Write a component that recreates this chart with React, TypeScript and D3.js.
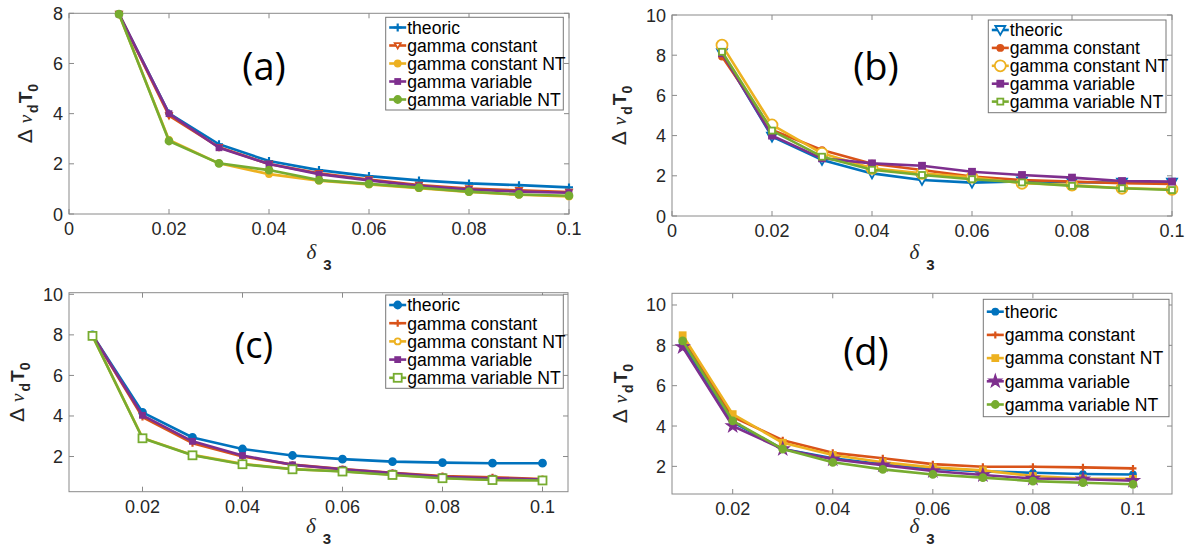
import React from 'react';
import * as d3 from 'd3';

// ---------------- DATA ----------------
const deltaValues = [0.01, 0.02, 0.03, 0.04, 0.05, 0.06, 0.07, 0.08, 0.09, 0.1];
const seriesNames = ['theoric', 'gamma constant', 'gamma constant NT', 'gamma variable', 'gamma variable NT'];
const panelTags = ['(a)', '(b)', '(c)', '(d)'];

const xTicksFromZero = [0, 0.02, 0.04, 0.06, 0.08, 0.1];
const xTicksNoZero = [0.02, 0.04, 0.06, 0.08, 0.1];
const xTickLabelsFromZero = ['0', '0.02', '0.04', '0.06', '0.08', '0.1'];
const xTickLabelsNoZero = ['0.02', '0.04', '0.06', '0.08', '0.1'];
const yTicksA = [0, 2, 4, 6, 8];
const yTicksB = [0, 2, 4, 6, 8, 10];
const yTicksCD = [2, 4, 6, 8, 10];

// panel (a)
const aTheoric = [7.97, 4.01, 2.78, 2.11, 1.75, 1.51, 1.34, 1.22, 1.15, 1.06];
const aGammaConst = [7.97, 3.92, 2.66, 1.99, 1.62, 1.37, 1.15, 1.01, 0.94, 0.87];
const aGammaConstNT = [7.97, 2.95, 2.02, 1.59, 1.33, 1.18, 1.03, 0.88, 0.77, 0.7];
const aGammaVar = [7.97, 4.0, 2.64, 1.99, 1.59, 1.34, 1.12, 0.97, 0.89, 0.85];
const aGammaVarNT = [7.97, 2.91, 2.02, 1.75, 1.35, 1.2, 1.05, 0.89, 0.78, 0.73];

// panel (b)
const bTheoric = [8.1, 3.95, 2.79, 2.12, 1.79, 1.66, 1.72, 1.68, 1.66, 1.66];
const bGammaConst = [7.93, 4.28, 3.28, 2.6, 2.29, 1.96, 1.79, 1.71, 1.63, 1.6];
const bGammaConstNT = [8.5, 4.53, 3.12, 2.37, 2.12, 1.93, 1.63, 1.54, 1.38, 1.33];
const bGammaVar = [8.1, 4.0, 2.87, 2.62, 2.5, 2.2, 2.04, 1.91, 1.74, 1.71];
const bGammaVarNT = [8.17, 4.25, 2.95, 2.3, 2.04, 1.83, 1.67, 1.5, 1.38, 1.29];

// panel (c)
const cTheoric = [8.0, 4.18, 2.94, 2.37, 2.05, 1.87, 1.75, 1.7, 1.67, 1.67];
const cGammaConst = [7.98, 3.95, 2.66, 2.0, 1.6, 1.38, 1.2, 1.04, 0.98, 0.89];
const cGammaConstNT = [7.95, 2.92, 2.08, 1.64, 1.38, 1.27, 1.1, 0.94, 0.85, 0.84];
const cGammaVar = [7.98, 4.03, 2.75, 2.05, 1.59, 1.37, 1.18, 1.0, 0.93, 0.87];
const cGammaVarNT = [7.95, 2.9, 2.06, 1.62, 1.37, 1.26, 1.09, 0.93, 0.84, 0.82];

// panel (d)
const dTheoric = [8.1, 4.2, 2.86, 2.4, 2.1, 1.88, 1.75, 1.68, 1.62, 1.6];
const dGammaConst = [8.3, 4.46, 3.3, 2.67, 2.4, 2.11, 1.98, 1.98, 1.95, 1.9];
const dGammaConstNT = [8.5, 4.59, 3.17, 2.56, 2.2, 1.95, 1.8, 1.52, 1.4, 1.38];
const dGammaVar = [7.92, 4.0, 2.86, 2.35, 2.06, 1.77, 1.57, 1.4, 1.36, 1.29];
const dGammaVarNT = [8.22, 4.26, 2.86, 2.2, 1.85, 1.6, 1.44, 1.27, 1.19, 1.11];

// ---------------- STYLE / LAYOUT ----------------
const COLORS = ['#0072BD', '#D95319', '#EDB120', '#7E2F8E', '#77AC30'];
const AXIS_COLOR = '#8a8a8a';
const TEXT_COLOR = '#262626';
const SANS = '"Liberation Sans", Arial, Helvetica, sans-serif';
const SERIF = '"Liberation Serif", "Times New Roman", serif';

type Marker = { type: string; size: number; filled: boolean };

const panels = [
  {
    tag: panelTags[0],
    box: { left: 69, top: 13.3, right: 569, bottom: 214 },
    xDomain: [0, 0.1], yDomain: [0, 8],
    xTicks: xTicksFromZero, xLabels: xTickLabelsFromZero, yTicks: yTicksA,
    series: [aTheoric, aGammaConst, aGammaConstNT, aGammaVar, aGammaVarNT],
    markers: [
      { type: 'plus', size: 8, filled: false },
      { type: 'triDown', size: 6, filled: false },
      { type: 'circle', size: 6, filled: true },
      { type: 'square', size: 5, filled: true },
      { type: 'circle', size: 7, filled: true },
    ] as Marker[],
    legend: { left: 385.7, top: 17.3, right: 563.3, bottom: 110, row0: 27.5, step: 18 },
    tagPos: { x: 264, y: 80, size: 38 },
    yLabelX: 32, xLabelY: 259,
  },
  {
    tag: panelTags[1],
    box: { left: 672, top: 15, right: 1172, bottom: 216 },
    xDomain: [0, 0.1], yDomain: [0, 10],
    xTicks: xTicksFromZero, xLabels: xTickLabelsFromZero, yTicks: yTicksB,
    series: [bTheoric, bGammaConst, bGammaConstNT, bGammaVar, bGammaVarNT],
    markers: [
      { type: 'triDown', size: 10, filled: false },
      { type: 'circle', size: 6, filled: true },
      { type: 'circle', size: 11, filled: false },
      { type: 'square', size: 6, filled: true },
      { type: 'square', size: 6, filled: false },
    ] as Marker[],
    legend: { left: 988.3, top: 20, right: 1166, bottom: 112.7, row0: 30, step: 17.9 },
    tagPos: { x: 876, y: 80, size: 38 },
    yLabelX: 626, xLabelY: 259,
  },
  {
    tag: panelTags[2],
    box: { left: 69, top: 292.7, right: 568, bottom: 491.7 },
    xDomain: [0.0053, 0.1051], yDomain: [0.265, 10.08],
    xTicks: xTicksNoZero, xLabels: xTickLabelsNoZero, yTicks: yTicksCD,
    series: [cTheoric, cGammaConst, cGammaConstNT, cGammaVar, cGammaVarNT],
    markers: [
      { type: 'circle', size: 7, filled: true },
      { type: 'plus', size: 7, filled: false },
      { type: 'circle', size: 6, filled: false },
      { type: 'square', size: 5, filled: true },
      { type: 'square', size: 8, filled: false },
    ] as Marker[],
    legend: { left: 385.7, top: 295, right: 563.3, bottom: 388.3, row0: 305, step: 18.2 },
    tagPos: { x: 254, y: 358, size: 36 },
    yLabelX: 24, xLabelY: 533,
  },
  {
    tag: panelTags[3],
    box: { left: 672, top: 293.3, right: 1172, bottom: 494 },
    xDomain: [0.00787, 0.1078], yDomain: [0.63, 10.58],
    xTicks: xTicksNoZero, xLabels: xTickLabelsNoZero, yTicks: yTicksCD,
    series: [dTheoric, dGammaConst, dGammaConstNT, dGammaVar, dGammaVarNT],
    markers: [
      { type: 'circle', size: 6, filled: true },
      { type: 'plus', size: 7, filled: false },
      { type: 'square', size: 6, filled: true },
      { type: 'star', size: 8, filled: true },
      { type: 'circle', size: 7, filled: true },
    ] as Marker[],
    legend: { left: 983.3, top: 299.3, right: 1169, bottom: 416.7, row0: 311.7, step: 23.2 },
    tagPos: { x: 866, y: 365, size: 38 },
    yLabelX: 627, xLabelY: 533,
  },
];

function MarkerGlyph({ m, x, y, color }: { m: Marker; x: number; y: number; color: string }) {
  const s = m.size;
  const h = s / 2;
  const fill = m.filled ? color : 'white';
  const sw = 1.8;
  switch (m.type) {
    case 'plus':
      return <path d={`M${x - h},${y}H${x + h}M${x},${y - h}V${y + h}`} stroke={color} strokeWidth={2.2} fill="none" />;
    case 'triDown':
      return (
        <path
          d={`M${x - h},${y - h * 0.8}L${x + h},${y - h * 0.8}L${x},${y + h}Z`}
          stroke={color}
          strokeWidth={sw}
          fill={fill}
        />
      );
    case 'circle':
      return <circle cx={x} cy={y} r={h} stroke={color} strokeWidth={sw} fill={fill} />;
    case 'square':
      return <rect x={x - h} y={y - h} width={s} height={s} stroke={color} strokeWidth={sw} fill={fill} />;
    case 'star': {
      const p = d3.symbol().type(d3.symbolStar).size(s * s * 0.8)();
      return <path d={p || ''} transform={`translate(${x},${y})`} stroke={color} strokeWidth={1.2} fill={fill} />;
    }
    default:
      return <circle cx={x} cy={y} r={h} fill={color} />;
  }
}

function Panel({ p }: { p: (typeof panels)[number] }) {
  const { box } = p;
  const x = d3.scaleLinear().domain(p.xDomain).range([box.left, box.right]);
  const y = d3.scaleLinear().domain(p.yDomain).range([box.bottom, box.top]);
  const line = d3
    .line<number>()
    .x((_, i) => x(deltaValues[i]))
    .y((d) => y(d));
  const tickLen = 5;
  const cx = (box.left + box.right) / 2;
  const cy = (box.top + box.bottom) / 2;
  const lg = p.legend;

  return (
    <g>
      <rect
        x={box.left}
        y={box.top}
        width={box.right - box.left}
        height={box.bottom - box.top}
        fill="white"
        stroke={AXIS_COLOR}
        strokeWidth={1}
      />
      {p.xTicks.map((t, i) => (
        <g key={'xt' + i}>
          <line x1={x(t)} x2={x(t)} y1={box.bottom} y2={box.bottom - tickLen} stroke={AXIS_COLOR} />
          <line x1={x(t)} x2={x(t)} y1={box.top} y2={box.top + tickLen} stroke={AXIS_COLOR} />
          <text
            x={x(t)}
            y={box.bottom + 21}
            textAnchor="middle"
            fontFamily={SANS}
            fontSize={18}
            fill={TEXT_COLOR}
          >
            {p.xLabels[i]}
          </text>
        </g>
      ))}
      {p.yTicks.map((t, i) => (
        <g key={'yt' + i}>
          <line x1={box.left} x2={box.left + tickLen} y1={y(t)} y2={y(t)} stroke={AXIS_COLOR} />
          <line x1={box.right} x2={box.right - tickLen} y1={y(t)} y2={y(t)} stroke={AXIS_COLOR} />
          <text
            x={box.left - 6}
            y={y(t) + 6.5}
            textAnchor="end"
            fontFamily={SANS}
            fontSize={18}
            fill={TEXT_COLOR}
          >
            {String(t)}
          </text>
        </g>
      ))}
      {p.series.map((vals, si) => (
        <g key={'s' + si}>
          <path d={line(vals) || ''} fill="none" stroke={COLORS[si]} strokeWidth={2.6} strokeLinejoin="round" />
          {vals.map((v, i) => (
            <MarkerGlyph key={i} m={p.markers[si]} x={x(deltaValues[i])} y={y(v)} color={COLORS[si]} />
          ))}
        </g>
      ))}
      <text
        x={p.tagPos.x}
        y={p.tagPos.y}
        textAnchor="middle"
        fontFamily='"Open Sans", sans-serif'
        fontSize={p.tagPos.size}
        fill="#000"
      >
        {p.tag}
      </text>
      <rect
        x={lg.left}
        y={lg.top}
        width={lg.right - lg.left}
        height={lg.bottom - lg.top}
        fill="white"
        stroke="#777"
        strokeWidth={1}
      />
      {seriesNames.map((name, si) => {
        const ry = lg.row0 + si * lg.step;
        const x0 = lg.left + 3.5;
        const x1 = lg.left + 20.5;
        return (
          <g key={'lg' + si}>
            <line x1={x0} x2={x1} y1={ry} y2={ry} stroke={COLORS[si]} strokeWidth={2.6} />
            <MarkerGlyph m={p.markers[si]} x={(x0 + x1) / 2} y={ry} color={COLORS[si]} />
            <text x={lg.left + 21.5} y={ry + 6.3} fontFamily={SANS} fontSize={17.6} fill="#000">
              {name}
            </text>
          </g>
        );
      })}
      <text
        transform={`translate(${p.yLabelX},${cy}) rotate(-90)`}
        textAnchor="middle"
        fontFamily={SANS}
        fontSize={19}
        fill={TEXT_COLOR}
      >
        <tspan fontSize={21}>Δ</tspan>
        <tspan fontFamily={SERIF} fontStyle="italic" dx={6}>ν</tspan>
        <tspan fontWeight="bold" fontSize={14} dx={2} dy={6}>d</tspan>
        <tspan fontWeight="bold" dx={1} dy={-6}>T</tspan>
        <tspan fontWeight="bold" fontSize={14} dy={6}>0</tspan>
      </text>
      <text x={cx} y={p.xLabelY} textAnchor="middle" fontFamily={SERIF} fontSize={21} fill={TEXT_COLOR}>
        <tspan fontStyle="italic">δ</tspan>
        <tspan fontFamily={SANS} fontWeight="bold" fontSize={15} dx={7} dy={11}>3</tspan>
      </text>
    </g>
  );
}

export default function App() {
  return (
    <svg
      width={1193}
      height={548}
      viewBox="0 0 1193 548"
      style={{ position: 'absolute', left: 0, top: 0, display: 'block', background: 'white' }}
    >
      <rect x={0} y={0} width={1193} height={548} fill="white" />
      {panels.map((p, i) => (
        <Panel key={i} p={p} />
      ))}
    </svg>
  );
}
